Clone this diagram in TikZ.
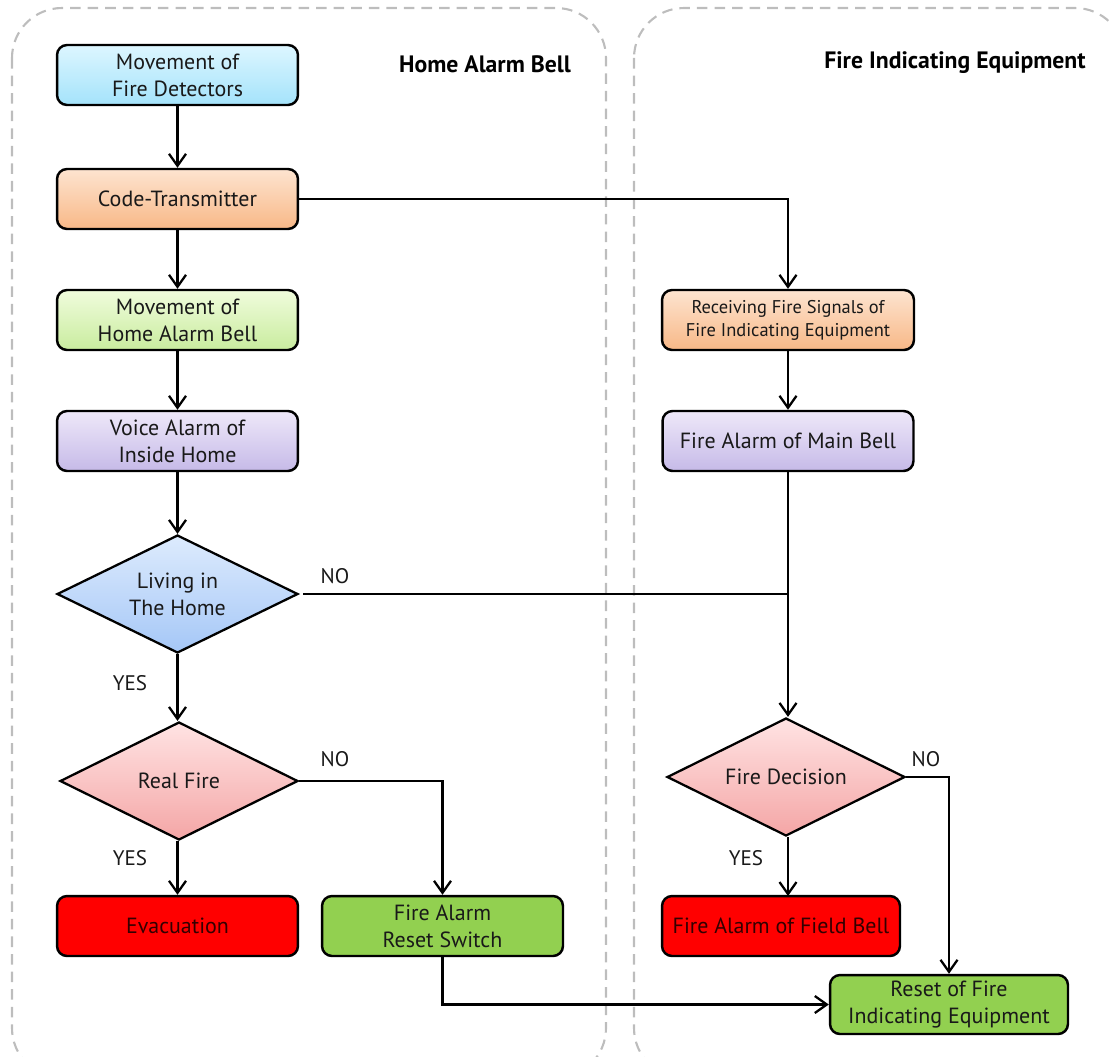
\documentclass[tikz,border=0pt]{standalone}
\usepackage{fontspec}
\setmainfont{PT Sans}
\usetikzlibrary{shapes.geometric,arrows.meta}

\definecolor{cyanTop}{HTML}{DDF6FF}
\definecolor{cyanBot}{HTML}{A4E3FB}
\definecolor{orangeTop}{HTML}{FDE4D0}
\definecolor{orangeBot}{HTML}{F8B887}
\definecolor{limeTop}{HTML}{F0FCDC}
\definecolor{limeBot}{HTML}{C9EC9F}
\definecolor{lilacTop}{HTML}{EEE8F9}
\definecolor{lilacBot}{HTML}{C6BAE8}
\definecolor{blueTop}{HTML}{DDEBFD}
\definecolor{blueBot}{HTML}{A5C7F7}
\definecolor{pinkTop}{HTML}{FFE3E3}
\definecolor{pinkBot}{HTML}{F4A6A6}
\definecolor{alarmRed}{HTML}{FF0000}
\definecolor{resetGreen}{HTML}{92D050}
\definecolor{laneGray}{HTML}{BDBDBD}

\tikzset{
  box/.style={draw=black, line width=1.4pt, rounded corners=0.2cm,
    minimum width=4.82cm, minimum height=1.2cm, inner sep=2pt,
    align=center, text=black!90, font=\fontsize{12.5}{15.5}\selectfont},
  decision/.style={diamond, draw=black, line width=1.3pt, aspect=2,
    minimum width=4.82cm, minimum height=2.36cm, inner sep=0pt,
    align=center, text=black!90, font=\fontsize{12.5}{15.5}\selectfont},
  flow/.style={line width=1.3pt, -{Straight Barb[length=2.4mm,width=3.4mm,line width=1.3pt]}},
  link/.style={line width=1.3pt},
  lane/.style={draw=laneGray, dash pattern=on 6pt off 4pt, line width=1.2pt, rounded corners=1cm},
  lanetitle/.style={font=\bfseries\fontsize{13.5}{16}\selectfont},
  answer/.style={text=black!90, font=\fontsize{12}{14}\selectfont}
}

\begin{document}
\begin{tikzpicture}[x=0.02cm, y=-0.02cm]
\useasboundingbox (0,0) rectangle (1109,1056);

% two lanes
\draw[lane] (12,8) rectangle (606,1078);
\draw[lane] (634,8) rectangle (1125,1078);
\node[lanetitle] (homeTitle) at (485,64) {Home Alarm Bell};
\node[lanetitle] (fireTitle) at (955,63) {Fire Indicating Equipment};

% home side
\node[box, top color=cyanTop, bottom color=cyanBot] (detect) at (177.5,75) {Movement of\\Fire Detectors};
\node[box, top color=orangeTop, bottom color=orangeBot] (coder) at (177.5,199) {Code-Transmitter};
\node[box, top color=limeTop, bottom color=limeBot] (homeBell) at (177.5,320) {Movement of\\Home Alarm Bell};
\node[box, top color=lilacTop, bottom color=lilacBot] (voice) at (177.5,441) {Voice Alarm of\\Inside Home};
\node[decision, top color=blueTop, bottom color=blueBot] (living) at (177.5,594) {Living in\\The Home};
\node[decision, top color=pinkTop, bottom color=pinkBot, minimum width=4.76cm] (realFire) at (179,781) {Real Fire};
\node[box, fill=alarmRed, text=black!80!red] (evac) at (177.5,926) {Evacuation};
\node[box, fill=resetGreen] (resetSw) at (442.5,926) {Fire Alarm\\Reset Switch};

% equipment side
\node[box, top color=orangeTop, bottom color=orangeBot, minimum width=5.04cm,
  font=\fontsize{10.5}{13}\selectfont] (receive) at (788,320) {Receiving Fire Signals of\\Fire Indicating Equipment};
\node[box, top color=lilacTop, bottom color=lilacBot, minimum width=5.02cm] (mainBell) at (788,441) {Fire Alarm of Main Bell};
\node[decision, top color=pinkTop, bottom color=pinkBot, minimum width=4.76cm] (decide) at (786,777) {Fire Decision};
\node[box, fill=alarmRed, text=black!80!red, minimum width=4.76cm] (fieldBell) at (781,926) {Fire Alarm of Field Bell};
\node[box, fill=resetGreen, minimum width=4.76cm, minimum height=1.18cm] (resetEq) at (949,1004.5) {Reset of Fire\\Indicating Equipment};

% connectors
\draw[flow] (detect) -- (coder);
\draw[flow] (coder) -- (homeBell);
\draw[flow] (homeBell) -- (voice);
\draw[flow] (voice) -- (living);
\draw[flow] (living.south) -- (living.south |- realFire.north);
\draw[flow] (realFire.south -| evac.north) -- (evac.north);
\draw[flow] (realFire.east) -| (resetSw.north);
\draw[flow] (resetSw.south) |- (resetEq.west);
\draw[flow] (coder.east) -| (receive.north);
\draw[flow] (receive) -- (mainBell);
\draw[flow] (mainBell.south) -- (mainBell.south |- decide.north);
\draw[link] (living.east) ++(4,0) -- (mainBell.south |- living.east);
\draw[flow] (decide.south -| 788,0) -- (788,896);
\draw[flow] (decide.east) -| (resetEq.north);

% answers
\node[answer] (noLiving) at (335,576) {NO};
\node[answer] (yesLiving) at (130,683) {YES};
\node[answer] (noReal) at (335,759) {NO};
\node[answer] (yesReal) at (130,858) {YES};
\node[answer] (noDecide) at (926,759) {NO};
\node[answer] (yesDecide) at (746,858) {YES};
\end{tikzpicture}
\end{document}
